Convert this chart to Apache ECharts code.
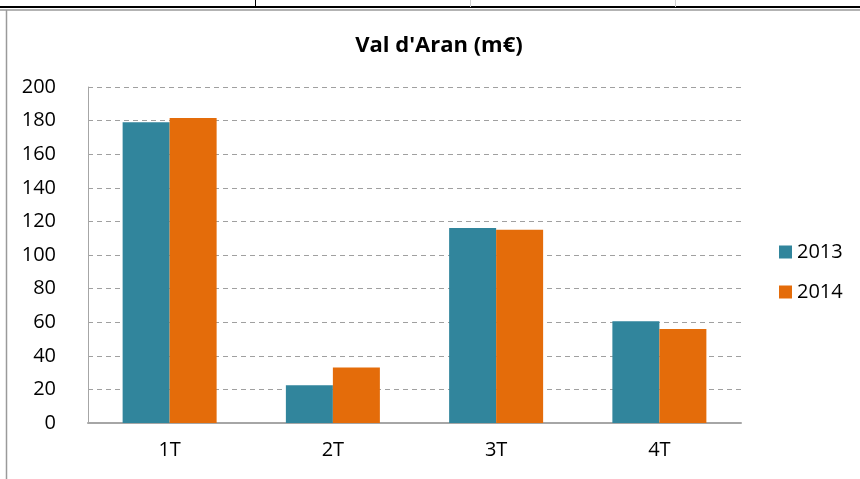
<!DOCTYPE html>
<html>
<head>
<meta charset="utf-8">
<script src="https://cdn.jsdelivr.net/npm/echarts@6/dist/echarts.min.js"></script>
<style>
  html, body { margin: 0; padding: 0; background: #fff; }
  #chart { width: 860px; height: 479px; }
</style>
</head>
<body>
<div id="chart"></div>
<script>
// dades del gràfic
const quarters = ['1T', '2T', '3T', '4T']
const values2013 = [179, 22.5, 116, 60.5]
const values2014 = [181.5, 33, 115, 56]
const yTicks = [0, 20, 40, 60, 80, 100, 120, 140, 160, 180, 200]

const chart = echarts.init(document.getElementById('chart'))
const font = 'Open Sans'

chart.setOption({
  animation: false,
  title: {
    text: "Val d'Aran (m€)",
    left: 434,
    top: 30,
    textAlign: 'center',
    textStyle: { fontFamily: font, fontSize: 22, fontWeight: 'bold', color: '#000' }
  },
  legend: {
    orient: 'vertical',
    left: 774,
    top: 237,
    itemWidth: 13,
    itemHeight: 13,
    itemGap: 20,
    icon: 'rect',
    textStyle: { fontFamily: font, fontSize: 20, color: '#000' },
    data: ['2013', '2014']
  },
  grid: { left: 88, top: 87, width: 653, height: 336 },
  xAxis: {
    type: 'category',
    data: quarters,
    axisLine: { lineStyle: { color: '#a6a6a6', width: 2 } },
    axisTick: { show: false },
    axisLabel: { fontFamily: font, fontSize: 20, color: '#000', margin: 17 }
  },
  yAxis: {
    type: 'value',
    min: yTicks[0],
    max: yTicks[yTicks.length - 1],
    interval: 20,
    axisLine: { show: true, lineStyle: { color: '#a6a6a6', width: 1 } },
    axisTick: { show: false },
    axisLabel: { fontFamily: font, fontSize: 20, color: '#000', margin: 32 },
    splitLine: { lineStyle: { color: '#a0a0a0', type: [5, 4], width: 1 } }
  },
  series: [
    {
      name: '2013',
      type: 'bar',
      data: values2013,
      barWidth: 47,
      barGap: '0%',
      itemStyle: { color: '#31859c' }
    },
    {
      name: '2014',
      type: 'bar',
      data: values2014,
      barWidth: 47,
      barGap: '0%',
      itemStyle: { color: '#e46c0a' }
    }
  ],
  graphic: [
    // vora de la taula de sobre
    { type: 'line', shape: { x1: 0, y1: 7, x2: 860, y2: 7 }, style: { stroke: '#000', lineWidth: 2 }, z: 11 },
    { type: 'line', shape: { x1: 255.5, y1: 0, x2: 255.5, y2: 7 }, style: { stroke: '#000', lineWidth: 1 }, z: 11 },
    { type: 'line', shape: { x1: 470.5, y1: 0, x2: 470.5, y2: 7 }, style: { stroke: '#d0d0d0', lineWidth: 1 }, z: 11 },
    { type: 'line', shape: { x1: 675.5, y1: 0, x2: 675.5, y2: 7 }, style: { stroke: '#d0d0d0', lineWidth: 1 }, z: 11 },
    // marc del gràfic
    { type: 'line', shape: { x1: 0, y1: 10, x2: 860, y2: 10 }, style: { stroke: '#9a9a9a', lineWidth: 1.5 }, z: 11 },
    { type: 'line', shape: { x1: 6.5, y1: 10, x2: 6.5, y2: 479 }, style: { stroke: '#9a9a9a', lineWidth: 1.5 }, z: 11 }
  ]
})
</script>
</body>
</html>
